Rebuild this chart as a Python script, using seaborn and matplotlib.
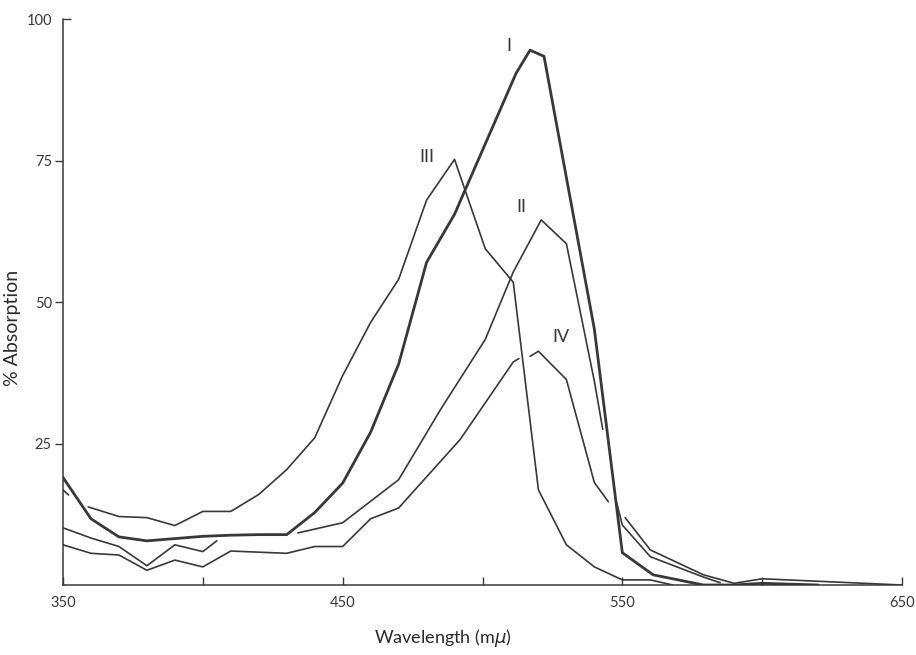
import numpy as np
import pandas as pd
import matplotlib
matplotlib.use("Agg")
import matplotlib.pyplot as plt
import seaborn as sns

# Absorption spectra (wavelength in m-mu, % absorption)
# Curve I - drawn as the heavy line
wl_1 = [350, 360, 370, 380, 390, 400, 410, 420, 430, 440, 450, 460, 470, 480, 490,
        512, 517, 522, 540, 550, 561, 570, 579, 590, 600, 620]
abs_1 = [19.0, 11.7, 8.5, 7.8, 8.2, 8.6, 8.8, 8.9, 8.9, 12.8, 18.0, 27.0, 39.0, 57.0, 65.5,
         90.4, 94.5, 93.4, 45.2, 5.7, 1.8, 0.9, 0.0, 0.0, 0.3, 0.0]
seg_1 = [0] * len(wl_1)

# Curve II - broken where it runs under curve I
wl_2 = [350, 360, 370, 380, 390, 400, 405,
        434, 450, 470, 485, 501, 511, 521, 530, 540, 543,
        551, 560, 579, 590, 600, 650]
abs_2 = [10.1, 8.3, 6.8, 3.4, 7.1, 5.9, 7.8,
         9.2, 11.0, 18.6, 31.0, 43.4, 55.3, 64.5, 60.3, 36.0, 27.5,
         11.9, 6.2, 1.8, 0.3, 1.1, 0.0]
seg_2 = [0] * 7 + [1] * 10 + [2] * 6

# Curve III
wl_3 = [350, 352,
        359, 370, 380, 390, 400, 410, 420, 430, 440, 450, 460, 470, 480, 490,
        495, 501, 511, 520, 530, 540, 550, 560, 568]
abs_3 = [16.8, 15.9,
         13.8, 12.1, 11.9, 10.5, 13.0, 13.0, 16.0, 20.4, 26.0, 37.0, 46.4, 54.0, 68.0, 75.2,
         68.0, 59.4, 53.5, 16.8, 7.1, 3.2, 0.9, 0.9, 0.0]
seg_3 = [0] * 2 + [1] * 23

# Curve IV
wl_4 = [350, 360, 370, 380, 390, 400, 410, 430, 440, 450, 460, 470, 480, 492, 511, 513,
        517, 520, 530, 540, 545,
        548, 550, 560, 579, 585]
abs_4 = [7.1, 5.6, 5.3, 2.6, 4.4, 3.2, 6.0, 5.6, 6.8, 6.8, 11.7, 13.6, 19.1, 25.7, 39.4, 40.0,
         40.4, 41.3, 36.3, 18.1, 14.7,
         14.5, 10.6, 5.0, 1.4, 0.4]
seg_4 = [0] * 16 + [1] * 5 + [2] * 5

curve_names = ["I", "II", "III", "IV"]
# where the roman numerals sit (wavelength, % absorption)
label_wl = [509.6, 514, 480, 528]
label_abs = [95.2, 66.8, 75.7, 43.8]


def build_frame():
    parts = []
    for name, wl, ab, seg in zip(curve_names,
                                 [wl_1, wl_2, wl_3, wl_4],
                                 [abs_1, abs_2, abs_3, abs_4],
                                 [seg_1, seg_2, seg_3, seg_4]):
        parts.append(pd.DataFrame({"wavelength": wl, "absorption": ab,
                                   "segment": seg, "curve": name}))
    return pd.concat(parts, ignore_index=True)


def make_plot():
    sns.set_style("ticks")
    plt.rcParams["font.family"] = ["Lato", "DejaVu Sans"]
    plt.rcParams["mathtext.fontset"] = "dejavusans"

    df = build_frame()
    ink = "#383838"

    fig = plt.figure(figsize=(9.16, 6.55), dpi=100)
    ax = fig.add_axes([63 / 916, 70 / 655, 839 / 916, 566 / 655])

    widths = {"I": 2.0, "II": 1.2, "III": 1.2, "IV": 1.2}
    for name in curve_names:
        sub = df[df["curve"] == name]
        sns.lineplot(data=sub, x="wavelength", y="absorption", units="segment",
                     estimator=None, color=ink, linewidth=widths[name], ax=ax)

    for name, x, y in zip(curve_names, label_wl, label_abs):
        ax.text(x, y, name, ha="center", va="center", fontsize=13, color=ink)

    ax.set_xlim(350, 650)
    ax.set_ylim(0, 100)
    sns.despine(ax=ax)
    for side in ["left", "bottom"]:
        ax.spines[side].set_color(ink)
        ax.spines[side].set_linewidth(1.1)

    ax.set_xticks([350, 450, 550, 650])
    ax.set_xticks([400, 500, 600], minor=True)
    ax.tick_params(axis="x", which="both", direction="in", length=6, width=1,
                   color=ink, labelsize=10.5, labelcolor=ink, pad=8)

    ax.set_yticks([25, 50, 75])
    ax.set_yticks([100], labels=["100"], minor=True)
    ax.tick_params(axis="y", which="major", direction="out", length=6, width=1,
                   color=ink, labelsize=10.5, labelcolor=ink, pad=2)
    ax.tick_params(axis="y", which="minor", direction="in", length=6, width=1,
                   color=ink, labelsize=10.5, labelcolor=ink, pad=8)

    ax.set_xlabel(r"Wavelength (m$\mu$)", fontsize=13, color="#2a2a2a")
    ax.set_ylabel("% Absorption", fontsize=14, color="#2a2a2a")
    ax.xaxis.set_label_coords(0.453, -0.075)
    ax.yaxis.set_label_coords(-0.05, 0.454)

    fig.savefig("out.png", dpi=100, facecolor="white")
    plt.close(fig)


if __name__ == "__main__":
    make_plot()
